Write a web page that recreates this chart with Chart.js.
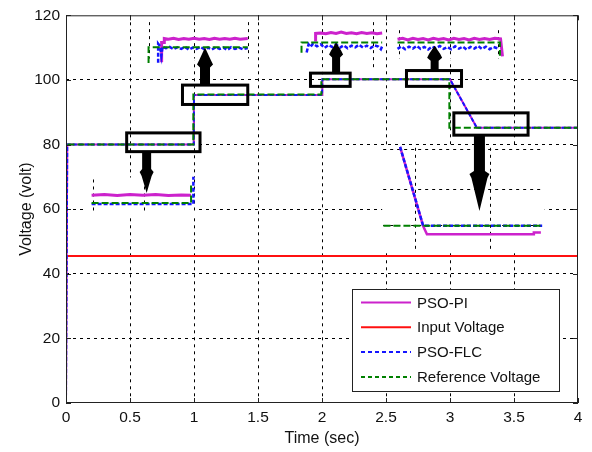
<!DOCTYPE html>
<html>
<head>
<meta charset="utf-8">
<script src="https://cdn.jsdelivr.net/npm/chart.js@4.4.0/dist/chart.umd.min.js"></script>
<style>
  html, body { margin: 0; padding: 0; background: #fff; }
  #wrap { width: 592px; height: 452px; }
</style>
</head>
<body>
<div id="wrap"><canvas id="voltage-chart" width="592" height="452"></canvas></div>
<script>
// Trục
const timeTicks = [0, 0.5, 1, 1.5, 2, 2.5, 3, 3.5, 4];
const voltTicks = [0, 20, 40, 60, 80, 100, 120];

// Đường chính [t (s), V]
const inputVoltage = [[0, 45.5], [4, 45.5]];
const referenceMain = [[0, 0], [0, 80], [0.995, 80], [0.995, 95.5], [1.995, 95.5], [1.995, 100.2], [2.995, 100.2], [2.995, 85.2], [4, 85.2]];
const flcMain = [[0, 0], [0.01, 80], [0.998, 80], [1.0, 95.3], [2.0, 95.3], [2.003, 100.2], [3.0, 100.2], [3.21, 85.2], [4, 85.2]];
const piMain = [[0, 0], [0.01, 80], [0.998, 80], [1.0, 95.3], [2.0, 95.3], [2.003, 100.2], [3.0, 100.2], [3.21, 85.2], [4, 85.2]];

// Khung phóng to 1 (dưới trái)
const zoom1Pi = [[0.20, 64.3], [0.30, 64.5], [0.40, 64.2], [0.50, 64.5], [0.60, 64.3], [0.70, 64.5], [0.80, 64.2], [0.90, 64.4], [0.977, 64.3]];
const zoom1Flc = [[0.20, 61.6], [0.99, 61.6], [0.995, 61.6], [0.995, 70.0]];
const zoom1Ref = [[0.20, 61.9], [0.977, 61.9], [0.977, 67.6]];

// Khung phóng to 2 (trên, t = 1)
const zoom2Pi = [[0.747, 105.5], [0.747, 111.6], [0.768, 111.6], [0.768, 112.8], [0.80, 112.6], [0.84, 112.9], [0.88, 112.5], [0.92, 112.8], [0.96, 112.6], [1.00, 112.9], [1.04, 112.6], [1.08, 112.8], [1.12, 112.5], [1.16, 112.9], [1.20, 112.6], [1.24, 112.8], [1.28, 112.6], [1.32, 112.9], [1.36, 112.6], [1.42, 112.8]];
const zoom2Flc = [[0.72, 105.3], [0.72, 111.2], [0.735, 110.4], [0.745, 107.5], [0.755, 110.3], [0.78, 109.8], [0.81, 110.2], [0.84, 109.5], [0.87, 110.1], [0.90, 109.6], [0.93, 110.2], [0.96, 109.4], [0.99, 110.0], [1.02, 109.6], [1.05, 110.2], [1.08, 109.5], [1.11, 110.0], [1.14, 109.4], [1.17, 110.1], [1.20, 109.6], [1.23, 110.0], [1.26, 109.3], [1.29, 110.1], [1.32, 109.6], [1.35, 110.0], [1.38, 109.5], [1.42, 109.9]];
const zoom2Ref = [[0.645, 105.2], [0.645, 110.1], [1.42, 110.1]];

// Khung phóng to 3 (trên, t = 2)
const zoom3Pi = [[1.95, 111.9], [1.95, 114.4], [1.99, 114.5], [2.03, 114.3], [2.07, 114.7], [2.11, 114.4], [2.15, 114.8], [2.19, 114.4], [2.23, 114.6], [2.27, 114.3], [2.31, 114.7], [2.35, 114.4], [2.39, 114.6], [2.43, 114.3], [2.47, 114.5]];
const zoom3Flc = [[1.88, 108.5], [1.895, 111.0], [1.91, 110.2], [1.93, 111.2], [1.96, 110.4], [1.99, 111.0], [2.02, 109.9], [2.05, 110.8], [2.08, 110.2], [2.11, 111.0], [2.14, 110.0], [2.17, 110.7], [2.20, 109.8], [2.23, 110.6], [2.26, 110.1], [2.29, 110.9], [2.32, 110.0], [2.35, 110.6], [2.38, 109.9], [2.41, 110.7], [2.44, 110.3], [2.46, 109.5], [2.47, 110.4]];
const zoom3Ref = [[1.84, 108.4], [1.84, 111.6], [2.47, 111.6]];

// Khung phóng to 4 (trên, t = 3)
const zoom4Pi = [[2.59, 112.6], [2.63, 112.9], [2.67, 112.4], [2.71, 112.9], [2.75, 112.5], [2.79, 112.8], [2.83, 112.4], [2.87, 112.9], [2.91, 112.5], [2.95, 112.8], [2.99, 112.4], [3.03, 112.9], [3.07, 112.5], [3.11, 112.8], [3.15, 112.4], [3.19, 112.9], [3.23, 112.5], [3.27, 112.8], [3.31, 112.5], [3.35, 112.9], [3.395, 112.7], [3.41, 107.3]];
const zoom4Flc = [[2.59, 109.6], [2.62, 110.4], [2.65, 109.5], [2.68, 110.3], [2.71, 109.7], [2.74, 110.5], [2.77, 109.6], [2.80, 110.2], [2.83, 109.4], [2.86, 110.3], [2.89, 109.8], [2.92, 110.5], [2.95, 109.6], [2.98, 110.2], [3.01, 109.5], [3.04, 110.4], [3.07, 109.7], [3.10, 110.3], [3.13, 109.4], [3.16, 110.2], [3.19, 109.7], [3.22, 110.5], [3.25, 109.6], [3.28, 110.3], [3.31, 109.5], [3.34, 110.2], [3.37, 109.8]];
const zoom4Ref = [[2.59, 111.6], [3.39, 111.6], [3.39, 107.5]];

// Khung phóng to 5 (dưới phải, t = 3)
const zoom5Pi = [[2.61, 79.3], [2.79, 54.8], [2.82, 52.2], [3.65, 52.2], [3.655, 52.8], [3.71, 52.8]];
const zoom5Flc = [[2.61, 79.3], [2.79, 54.9], [3.72, 54.9]];
const zoom5Ref = [[2.48, 54.9], [3.72, 54.9]];

// Vùng nền trắng và lưới của các khung phóng to (đơn vị dữ liệu)
const zoomAreas = [
    { t: [0.16, 1.015], v: [58.2, 69.8], gridT: [0.21, 0.61, 1.0], gridV: [] },
    { t: [0.62, 1.45], v: [106.0, 118.5], gridT: [0.645, 1.0, 1.42], gridV: [] },
    { t: [1.74, 2.49], v: [102.5, 118.5], gridT: [2.0, 2.40], gridV: [] },
    { t: [2.56, 3.44], v: [106.0, 116.0], gridT: [2.6, 3.0, 3.375], gridV: [] },
    { t: [2.47, 3.74], v: [46.6, 79.6], gridT: [2.73, 3.31], gridV: [78.6, 66.3, 55.0] }
];

// Hộp đánh dấu [t0, t1, V0, V1]
const markBoxes = [
    [0.474, 1.047, 77.8, 83.6],
    [0.91, 1.42, 92.4, 98.4],
    [1.91, 2.22, 98.0, 102.1],
    [2.66, 3.09, 98.0, 102.9],
    [3.03, 3.61, 82.9, 89.8]
];
// Mũi tên [t, V gốc, V đỉnh]
const markArrows = [
    [0.63, 77.8, 65.0],
    [1.086, 98.4, 110.0],
    [2.11, 102.1, 111.6],
    [2.88, 102.9, 110.6],
    [3.23, 82.9, 59.4]
];
const arrowStyles = [
    { shaft: 9, wing: 14, head: 24 },
    { shaft: 10, wing: 16, head: 20 },
    { shaft: 8, wing: 14, head: 15 },
    { shaft: 8, wing: 15, head: 15 },
    { shaft: 11, wing: 20, head: 40 }
];

const legendLabels = ['PSO-PI', 'Input Voltage', 'PSO-FLC', 'Reference Voltage'];

const COLORS = { pi: '#cc22cc', input: '#ff1010', flc: '#1515ff', ref: '#008000' };
const FONT = "'Liberation Sans', Arial, sans-serif";
const TEXT = '#111';

const toXY = pts => pts.map(([x, y]) => ({ x, y }));

function line(label, pts, kind, width) {
    const base = { label, data: toXY(pts), pointRadius: 0, tension: 0, fill: false, borderWidth: width || 2 };
    if (kind === 'pi') return { ...base, borderColor: COLORS.pi };
    if (kind === 'input') return { ...base, borderColor: COLORS.input };
    if (kind === 'flc') return { ...base, borderColor: COLORS.flc, borderDash: [4, 2] };
    return { ...base, borderColor: COLORS.ref, borderDash: [7, 3] };
}

// Dataset đầu tiên được vẽ trên cùng
const datasets = [
    line('Reference Voltage', referenceMain, 'ref'),
    line('PSO-FLC', flcMain, 'flc'),
    line('PSO-PI', piMain, 'pi'),
    line('Input Voltage', inputVoltage, 'input'),
    line('Ref z1', zoom1Ref, 'ref'), line('FLC z1', zoom1Flc, 'flc', 2.5), line('PI z1', zoom1Pi, 'pi', 3),
    line('Ref z2', zoom2Ref, 'ref'), line('FLC z2', zoom2Flc, 'flc', 2.5), line('PI z2', zoom2Pi, 'pi', 3),
    line('Ref z3', zoom3Ref, 'ref'), line('FLC z3', zoom3Flc, 'flc', 2.5), line('PI z3', zoom3Pi, 'pi', 3),
    line('Ref z4', zoom4Ref, 'ref'), line('FLC z4', zoom4Flc, 'flc', 2.5), line('PI z4', zoom4Pi, 'pi', 3),
    line('Ref z5', zoom5Ref, 'ref'), line('FLC z5', zoom5Flc, 'flc', 2.5), line('PI z5', zoom5Pi, 'pi', 2.5)
];

function drawArrow(ctx, x, yBase, yTip, s) {
    const dir = yTip > yBase ? 1 : -1;
    const hs = yTip - dir * s.head;
    ctx.beginPath();
    ctx.moveTo(x - s.shaft / 2, yBase);
    ctx.lineTo(x - s.shaft / 2, hs);
    ctx.lineTo(x - s.wing / 2, hs + dir * 3);
    ctx.lineTo(x - s.wing / 2 + 2, hs + dir * 7);
    ctx.lineTo(x, yTip);
    ctx.lineTo(x + s.wing / 2 - 2, hs + dir * 7);
    ctx.lineTo(x + s.wing / 2, hs + dir * 3);
    ctx.lineTo(x + s.shaft / 2, hs);
    ctx.lineTo(x + s.shaft / 2, yBase);
    ctx.closePath();
    ctx.fill();
}

const overlayPlugin = {
    id: 'overlay',
    beforeDatasetsDraw(chart) {
        const { ctx, scales: { x, y } } = chart;
        ctx.save();
        zoomAreas.forEach(a => {
            const l = x.getPixelForValue(a.t[0]), r = x.getPixelForValue(a.t[1]);
            const t = y.getPixelForValue(a.v[1]), b = y.getPixelForValue(a.v[0]);
            ctx.fillStyle = '#fff';
            ctx.fillRect(l, t, r - l, b - t);
            ctx.strokeStyle = '#000';
            ctx.lineWidth = 1;
            ctx.setLineDash([3, 4]);
            a.gridT.forEach(v => {
                const px = Math.round(x.getPixelForValue(v)) + 0.5;
                ctx.beginPath(); ctx.moveTo(px, t + 2); ctx.lineTo(px, b - 2); ctx.stroke();
            });
            a.gridV.forEach(v => {
                const py = Math.round(y.getPixelForValue(v)) + 0.5;
                ctx.beginPath(); ctx.moveTo(l + 1, py); ctx.lineTo(r - 2, py); ctx.stroke();
            });
        });
        ctx.restore();
    },
    afterDatasetsDraw(chart) {
        const { ctx, chartArea: ca, scales: { x, y } } = chart;
        ctx.save();
        // Khung trục và vạch chia
        ctx.setLineDash([]);
        ctx.strokeStyle = '#222';
        ctx.lineWidth = 1;
        ctx.strokeRect(ca.left + 0.5, ca.top + 0.5, ca.right - ca.left - 1, ca.bottom - ca.top - 1);
        timeTicks.forEach(v => {
            const px = Math.round(x.getPixelForValue(v)) + 0.5;
            ctx.beginPath();
            ctx.moveTo(px, ca.bottom); ctx.lineTo(px, ca.bottom - 5);
            ctx.moveTo(px, ca.top); ctx.lineTo(px, ca.top + 5);
            ctx.stroke();
        });
        voltTicks.forEach(v => {
            const py = Math.round(y.getPixelForValue(v)) + 0.5;
            ctx.beginPath();
            ctx.moveTo(ca.left, py); ctx.lineTo(ca.left + 5, py);
            ctx.moveTo(ca.right, py); ctx.lineTo(ca.right - 5, py);
            ctx.stroke();
        });

        // Hộp đánh dấu
        ctx.strokeStyle = '#000';
        ctx.lineWidth = 3;
        markBoxes.forEach(([t0, t1, v0, v1]) => {
            const l = x.getPixelForValue(t0), r = x.getPixelForValue(t1);
            const t = y.getPixelForValue(v1), b = y.getPixelForValue(v0);
            ctx.strokeRect(l, t, r - l, b - t);
        });
        // Mũi tên
        ctx.fillStyle = '#000';
        markArrows.forEach(([t, vb, vt], i) => {
            drawArrow(ctx, x.getPixelForValue(t), y.getPixelForValue(vb), y.getPixelForValue(vt), arrowStyles[i]);
        });

        // Chú giải kiểu MATLAB
        const bw = 207, bh = 102;
        const bx = ca.right - 19 - bw, by = ca.bottom - 12 - bh;
        ctx.fillStyle = '#fff';
        ctx.fillRect(bx, by, bw, bh);
        ctx.lineWidth = 1;
        ctx.strokeStyle = '#222';
        ctx.strokeRect(bx + 0.5, by + 0.5, bw, bh);
        const styles = [
            { c: COLORS.pi, d: [] }, { c: COLORS.input, d: [] },
            { c: COLORS.flc, d: [4, 3] }, { c: COLORS.ref, d: [4, 3] }
        ];
        ctx.font = '15px ' + FONT;
        ctx.textBaseline = 'middle';
        legendLabels.forEach((label, i) => {
            const ry = by + 13.5 + i * 24.8;
            ctx.strokeStyle = styles[i].c;
            ctx.lineWidth = 2;
            ctx.setLineDash(styles[i].d);
            ctx.beginPath(); ctx.moveTo(bx + 9, ry); ctx.lineTo(bx + 59, ry); ctx.stroke();
            ctx.fillStyle = TEXT;
            ctx.fillText(label, bx + 65, ry + 1);
        });
        ctx.restore();
    }
};

const gridColor = edge => ctx => (ctx.tick && edge.includes(ctx.tick.value)) ? 'rgba(0,0,0,0)' : '#000';

new Chart(document.getElementById('voltage-chart').getContext('2d'), {
    type: 'line',
    data: { datasets },
    options: {
        responsive: false,
        animation: false,
        events: [],
        layout: { padding: { top: 12, right: 14, left: 0, bottom: 0 } },
        plugins: { legend: { display: false }, tooltip: { enabled: false } },
        scales: {
            x: {
                type: 'linear', min: 0, max: 4,
                afterBuildTicks: s => { s.ticks = timeTicks.map(v => ({ value: v })); },
                afterFit: s => { s.height = 49; },
                ticks: { color: TEXT, font: { family: FONT, size: 15.5 }, padding: 5, maxRotation: 0, callback: v => String(v) },
                grid: { color: gridColor([0, 4]), lineWidth: 1, drawTicks: false },
                border: { display: false, dash: [3, 4] },
                title: { display: true, text: 'Time (sec)', color: TEXT, font: { family: FONT, size: 16 }, padding: { top: 4, bottom: 4 } }
            },
            y: {
                type: 'linear', min: 0, max: 120,
                afterBuildTicks: s => { s.ticks = voltTicks.map(v => ({ value: v })); },
                afterFit: s => { s.width = 66; },
                ticks: { color: TEXT, font: { family: FONT, size: 15.5 }, padding: 6 },
                grid: { color: gridColor([0, 120]), lineWidth: 1, drawTicks: false },
                border: { display: false, dash: [3, 4] },
                title: { display: true, text: 'Voltage (volt)', color: TEXT, font: { family: FONT, size: 16 }, padding: { top: 17, bottom: 0 } }
            }
        }
    },
    plugins: [overlayPlugin]
});
</script>
</body>
</html>
